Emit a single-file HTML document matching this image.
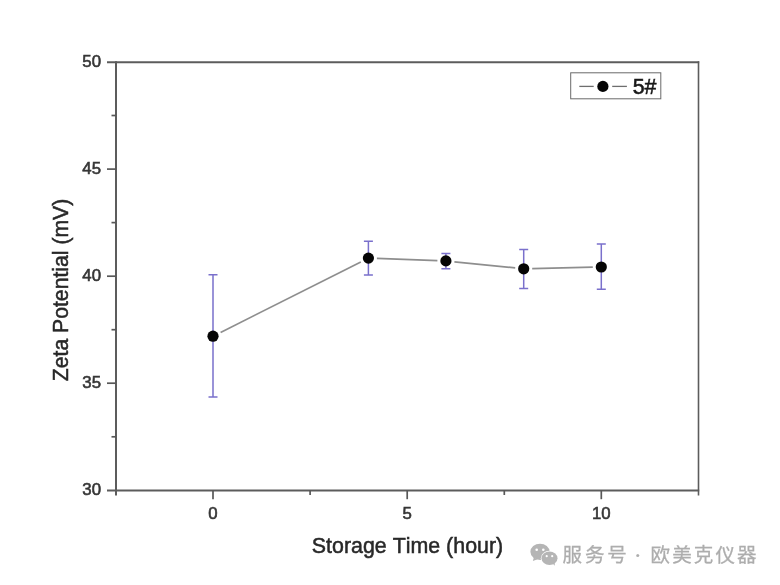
<!DOCTYPE html>
<html>
<head>
<meta charset="utf-8">
<title>Zeta Potential vs Storage Time</title>
<style>
html,body{margin:0;padding:0;background:#fff;}
body{width:780px;height:585px;overflow:hidden;position:relative;font-family:"Liberation Sans","Noto Sans CJK SC",sans-serif;}
svg{position:absolute;left:0;top:0;display:block;filter:blur(0.55px);}
text{font-family:"Liberation Sans","Noto Sans CJK SC",sans-serif;font-kerning:none;}
.tick{font-size:16.8px;fill:#363636;stroke:#363636;stroke-width:0.6px;}
.title{font-size:21.4px;fill:#282828;stroke:#282828;stroke-width:0.5px;}
.wm{font-size:19.5px;fill:#adadad;stroke:#adadad;stroke-width:0.3px;letter-spacing:2.1px;}
</style>
</head>
<body>
<svg width="780" height="585" viewBox="0 0 780 585">
  <rect x="0" y="0" width="780" height="585" fill="#ffffff"/>

  <!-- frame -->
  <g stroke="#5c5c5c" fill="none" stroke-linecap="butt">
    <line x1="116" y1="61.2" x2="116" y2="495.5" stroke-width="2"/>
    <line x1="107" y1="490.5" x2="699.2" y2="490.5" stroke-width="2"/>
    <line x1="107" y1="62.2" x2="699.2" y2="62.2" stroke-width="1.9"/>
    <line x1="698.5" y1="61.2" x2="698.5" y2="495.5" stroke-width="1.6"/>
  </g>

  <!-- y ticks -->
  <g stroke="#585858" stroke-width="1.7">
    <line x1="107" y1="169.1" x2="116" y2="169.1"/>
    <line x1="107" y1="276.2" x2="116" y2="276.2"/>
    <line x1="107" y1="383.2" x2="116" y2="383.2"/>
    <line x1="111.5" y1="115.5" x2="116" y2="115.5"/>
    <line x1="111.5" y1="222.6" x2="116" y2="222.6"/>
    <line x1="111.5" y1="329.7" x2="116" y2="329.7"/>
    <line x1="111.5" y1="436.8" x2="116" y2="436.8"/>
  </g>
  <!-- x ticks -->
  <g stroke="#585858" stroke-width="1.7">
    <line x1="213" y1="490" x2="213" y2="499.2"/>
    <line x1="407.2" y1="490" x2="407.2" y2="499.2"/>
    <line x1="601.3" y1="490" x2="601.3" y2="499.2"/>
    <line x1="310.1" y1="490" x2="310.1" y2="495"/>
    <line x1="504.3" y1="490" x2="504.3" y2="495"/>
  </g>

  <!-- y tick labels -->
  <g class="tick" text-anchor="end">
    <text x="101" y="67">50</text>
    <text x="101" y="174.1">45</text>
    <text x="101" y="281.1">40</text>
    <text x="101" y="388">35</text>
    <text x="101" y="494.7">30</text>
  </g>
  <!-- x tick labels -->
  <g class="tick" text-anchor="middle">
    <text x="212.8" y="519.3">0</text>
    <text x="407.2" y="519.3">5</text>
    <text x="601.3" y="519.3">10</text>
  </g>

  <!-- axis titles -->
  <text class="title" transform="translate(311.8,552.7) scale(1,1.025)">Storage Time (hour)</text>
  <text class="title" style="font-size:21.2px" transform="translate(67.6,381.2) rotate(-90) scale(1,1.05)">Zeta Potential (mV)</text>

  <!-- error bars -->
  <g stroke="#7a70cc" stroke-width="1.5" fill="none">
    <path d="M213 274.7V397.1M208.5 274.7H217.5M208.5 397.1H217.5"/>
    <path d="M368.4 241.2V275.1M363.9 241.2H372.9M363.9 275.1H372.9"/>
    <path d="M445.9 253.4V268.8M441.4 253.4H450.4M441.4 268.8H450.4"/>
    <path d="M523.7 249.6V288.6M519.2 249.6H528.2M519.2 288.6H528.2"/>
    <path d="M601.3 244.1V289.3M596.8 244.1H605.8M596.8 289.3H605.8"/>
  </g>

  <!-- connecting line segments (gapped around symbols) -->
  <g stroke="#8e8e8e" stroke-width="1.7" fill="none">
    <line x1="220.6" y1="332.4" x2="360.8" y2="261.9"/>
    <line x1="376.9" y1="258.4" x2="437.4" y2="260.6"/>
    <line x1="454.4" y1="261.8" x2="515.2" y2="267.9"/>
    <line x1="532.2" y1="268.6" x2="592.8" y2="267.2"/>
  </g>

  <!-- data points -->
  <g fill="#050505">
    <circle cx="213" cy="336.2" r="5.6"/>
    <circle cx="368.4" cy="258.1" r="5.6"/>
    <circle cx="445.9" cy="260.9" r="5.6"/>
    <circle cx="523.7" cy="268.8" r="5.6"/>
    <circle cx="601.3" cy="267" r="5.6"/>
  </g>

  <!-- legend -->
  <rect x="570.7" y="72.8" width="90.1" height="26" fill="#fff" stroke="#6a6a6a" stroke-width="1"/>
  <g stroke="#6e6e6e" stroke-width="1.3">
    <line x1="579.3" y1="86.4" x2="593.7" y2="86.4"/>
    <line x1="612.2" y1="86.4" x2="626.9" y2="86.4"/>
  </g>
  <circle cx="602.9" cy="86.4" r="5.6" fill="#050505"/>
  <text transform="translate(632.7,93.7) scale(1,1.035)" style="font-size:21.4px;fill:#181818;stroke:#181818;stroke-width:0.55px;">5#</text>

  <!-- watermark -->
  <g fill="#b5b5b5">
    <ellipse cx="540" cy="551.8" rx="9.6" ry="8.1"/>
    <path d="M533.8 557.6L532.9 561L537.6 559.2Z"/>
    <ellipse cx="549.5" cy="558.2" rx="8.7" ry="7.4" fill="#ffffff"/>
    <ellipse cx="549.5" cy="558.2" rx="8" ry="6.7"/>
    <path d="M552.6 563.6L554.8 565.7L554.7 562.4Z"/>
  </g>
  <g fill="#ffffff">
    <circle cx="536.7" cy="549.7" r="1.3"/>
    <circle cx="543.3" cy="549.7" r="1.3"/>
    <circle cx="546.7" cy="556.2" r="1.1"/>
    <circle cx="552.2" cy="556.2" r="1.1"/>
  </g>
  <text class="wm" y="562"><tspan x="562.6" style="letter-spacing:2.8px">服务号</tspan><tspan x="629.7" y="559.8" style="font-family:'Noto Sans CJK SC',sans-serif;font-size:11px;font-weight:bold;stroke-width:0.2px;letter-spacing:0"> · </tspan><tspan x="650.6" y="562">欧美克仪器</tspan></text>
</svg>
</body>
</html>
